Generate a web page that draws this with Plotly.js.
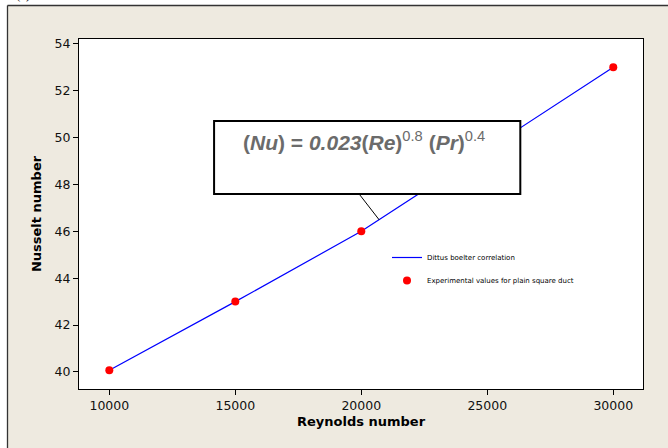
<!DOCTYPE html>
<html>
<head>
<meta charset="utf-8">
<script src="https://cdn.plot.ly/plotly-3.0.1.min.js"></script>
<style>html,body{margin:0;padding:0;background:#fff;}#chart{width:668px;height:448px;}</style>
</head>
<body>
<div id="chart"></div>
<script>
// Data
var reynolds = [10000, 15000, 20000, 30000];
var nuDittus = [40.07, 43, 46, 53];
var nuExperimental = [40.07, 43, 46, 53];
var xTicks = [10000, 15000, 20000, 25000, 30000];
var yTicks = [40, 42, 44, 46, 48, 50, 52, 54];
var seriesNames = ["Dittus boelter correlation", "Experimental values for plain square duct"];
var xTitle = "Reynolds number";
var yTitle = "Nusselt number";
var equationText = "<b>(<i>Nu</i>) = <i>0.023</i>(<i>Re</i>)</b><sup>0.8</sup> <b>(<i>Pr</i>)</b><sup>0.4</sup>";
var panelLabel = "(a)";

var beige = "#EEEAE0";
var tickFont = {family: "DejaVu Sans", size: 12.5, color: "#111"};
var titleFont = {family: "DejaVu Sans", size: 13, color: "#000", weight: "bold"};

var traces = [
  {
    x: reynolds, y: nuDittus, type: "scatter", mode: "lines",
    name: seriesNames[0], legendgroup: "a",
    line: {color: "#0000FF", width: 1.2}
  },
  {
    x: reynolds, y: nuExperimental, type: "scatter", mode: "markers",
    name: seriesNames[1], legendgroup: "b",
    marker: {color: "#FF0000", size: 8}
  }
];

var W = 668, H = 448, L = 79, R = 25, T = 39, B = 59;
var pw = W - L - R, ph = H - T - B;
function px(x) { return (x - L) / pw; }
function py(y) { return (H - B - y) / ph; }

var layout = {
  width: W, height: H,
  margin: {l: L, r: R, t: T, b: B, pad: 0},
  paper_bgcolor: beige,
  plot_bgcolor: "#FFFFFF",
  showlegend: true,
  legend: {
    x: px(387), y: py(243), xanchor: "left", yanchor: "top",
    bgcolor: "rgba(0,0,0,0)", borderwidth: 0,
    font: {family: "DejaVu Sans", size: 7, color: "#000"},
    traceorder: "grouped", tracegroupgap: 4
  },
  xaxis: {
    range: [8797, 31180], tickvals: xTicks, ticktext: xTicks.map(String),
    showgrid: false, zeroline: false,
    showline: true, linecolor: "#000", linewidth: 1, mirror: true,
    ticks: "outside", ticklen: 5, tickcolor: "#000", tickwidth: 1,
    tickfont: tickFont,
    title: {text: xTitle, font: titleFont, standoff: 4}
  },
  yaxis: {
    range: [39.27, 54.21], tickvals: yTicks, ticktext: yTicks.map(String),
    showgrid: false, zeroline: false,
    showline: true, linecolor: "#000", linewidth: 1, mirror: true,
    ticks: "outside", ticklen: 5, tickcolor: "#000", tickwidth: 1,
    tickfont: tickFont,
    title: {text: yTitle, font: titleFont, standoff: 10}
  },
  shapes: [
    {type: "rect", xref: "paper", yref: "paper", x0: px(-5), x1: px(7), y0: py(460), y1: py(-5),
     fillcolor: "#FFFFFF", line: {width: 0}, layer: "below"},
    {type: "rect", xref: "paper", yref: "paper", x0: px(-5), x1: px(680), y0: py(5), y1: py(-5),
     fillcolor: "#FFFFFF", line: {width: 0}, layer: "below"},
    {type: "line", xref: "paper", yref: "paper", x0: px(7.5), x1: px(7.5), y0: py(5.5), y1: py(460),
     line: {color: "#333", width: 1.3}},
    {type: "line", xref: "paper", yref: "paper", x0: px(7.5), x1: px(680), y0: py(5.5), y1: py(5.5),
     line: {color: "#333", width: 1.3}},
    {type: "rect", xref: "x", yref: "y", x0: 14158, x1: 26311, y0: 47.59, y1: 50.71,
     fillcolor: "#FFFFFF", line: {color: "#000", width: 2}},
    {type: "line", xref: "x", yref: "y", x0: 19917, y0: 47.59, x1: 20711, y1: 46.49,
     line: {color: "#000", width: 1}}
  ],
  annotations: [
    {xref: "x", yref: "y", x: 20115, y: 49.84, text: equationText, showarrow: false,
     xanchor: "center", yanchor: "middle",
     font: {family: "Liberation Sans", size: 21, color: "#6B6B6B"}},
    {xref: "paper", yref: "paper", x: px(14), y: py(4), text: panelLabel, showarrow: false,
     xanchor: "left", yanchor: "bottom",
     font: {family: "Liberation Serif", size: 13, color: "#000"}}
  ]
};

Plotly.newPlot("chart", traces, layout, {displayModeBar: false, staticPlot: true});
</script>
</body>
</html>
